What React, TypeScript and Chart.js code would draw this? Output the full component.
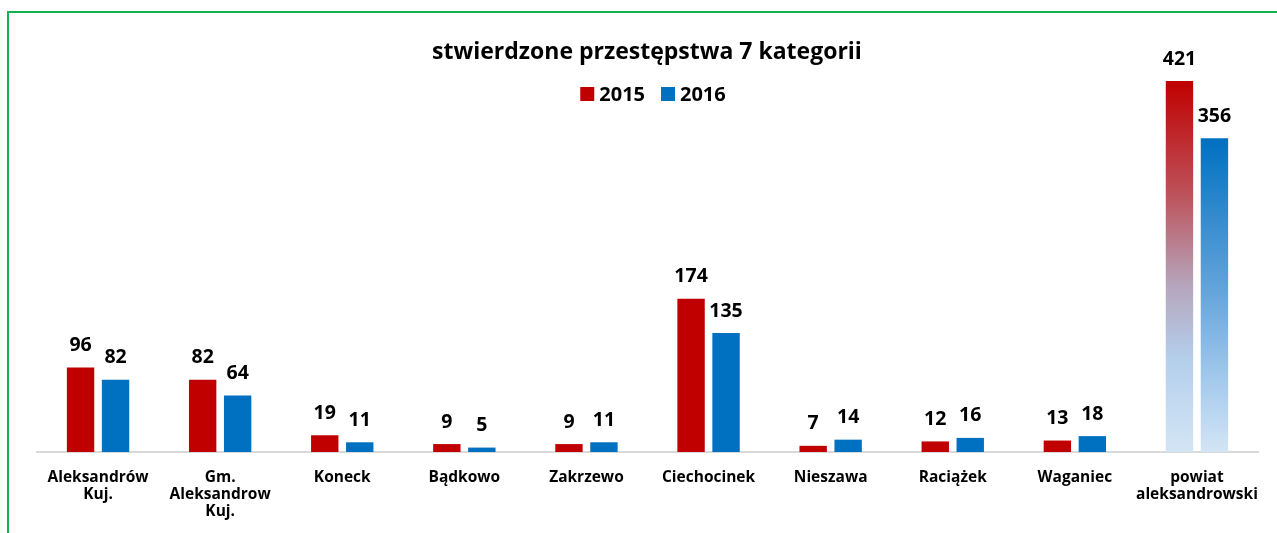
import React, { useEffect, useRef } from "react";
import { Chart, registerables } from "chart.js";

Chart.register(...registerables);

const categories: string[][] = [
  ["Aleksandrów", "Kuj."],
  ["Gm.", "Aleksandrow", "Kuj."],
  ["Koneck"],
  ["Bądkowo"],
  ["Zakrzewo"],
  ["Ciechocinek"],
  ["Nieszawa"],
  ["Raciążek"],
  ["Waganiec"],
  ["powiat", "aleksandrowski"],
];
const values2015: number[] = [96, 82, 19, 9, 9, 174, 7, 12, 13, 421];
const values2016: number[] = [82, 64, 11, 5, 11, 135, 14, 16, 18, 356];
const seriesLabels: string[] = ["2015", "2016"];
const titleText = "stwierdzone przestępstwa 7 kategorii";

const RED = "#C00000";
const BLUE = "#0070C0";
const FONT = "'Open Sans', Lato, sans-serif";

function gradientFill(ctx: any, base: string, isRed: boolean) {
  const chart = ctx.chart;
  if (ctx.type !== "data" || ctx.dataIndex !== 9) return base;
  const yScale = chart.scales && chart.scales.y;
  if (!yScale || !chart.chartArea) return base;
  const v = Number(ctx.raw);
  const top = yScale.getPixelForValue(v);
  const bottom = yScale.getPixelForValue(0);
  if (!isFinite(top) || !isFinite(bottom) || bottom <= top) return base;
  const g = chart.ctx.createLinearGradient(0, top, 0, bottom);
  if (isRed) {
    g.addColorStop(0, "#C00000");
    g.addColorStop(0.3, "#BD5058");
    g.addColorStop(0.55, "#B6A5BC");
    g.addColorStop(0.75, "#B4CFEC");
    g.addColorStop(1, "#D3E5F5");
  } else {
    g.addColorStop(0, "#0070C0");
    g.addColorStop(0.5, "#67A6DC");
    g.addColorStop(0.8, "#AACDEE");
    g.addColorStop(1, "#D3E5F5");
  }
  return g;
}

const overlayPlugin = {
  id: "overlay",
  afterDatasetsDraw(chart: any) {
    const ctx = chart.ctx;
    ctx.save();
    ctx.fillStyle = "#000";
    ctx.textAlign = "center";
    ctx.textBaseline = "middle";
    ctx.font = `bold 19.5px ${FONT}`;
    chart.data.datasets.forEach((ds: any, di: number) => {
      const meta = chart.getDatasetMeta(di);
      meta.data.forEach((bar: any, i: number) => {
        ctx.fillText(String(ds.data[i]), bar.x, bar.y - 22);
      });
    });
    // title
    ctx.font = `bold 23px ${FONT}`;
    ctx.fillText(titleText, 647, 52);
    // legend
    ctx.font = `bold 20px ${FONT}`;
    ctx.textAlign = "left";
    const items = chart.data.datasets.map((ds: any, i: number) => ({
      label: ds.label,
      color: i === 0 ? RED : BLUE,
    }));
    const box = 14;
    const gapBoxText = 5;
    const gapItems = 16;
    let total = 0;
    const widths = items.map((it: any) => ctx.measureText(it.label).width);
    items.forEach((_: any, i: number) => {
      total += box + gapBoxText + widths[i];
      if (i < items.length - 1) total += gapItems;
    });
    let x = 653 - total / 2;
    const cy = 94;
    items.forEach((it: any, i: number) => {
      ctx.fillStyle = it.color;
      ctx.fillRect(x, cy - box / 2, box, box);
      x += box + gapBoxText;
      ctx.fillStyle = "#000";
      ctx.fillText(it.label, x, cy + 1);
      x += widths[i] + gapItems;
    });
    ctx.restore();
  },
};

export default function App() {
  const ref = useRef<HTMLCanvasElement | null>(null);
  useEffect(() => {
    if (!ref.current) return;
    const chart = new Chart(ref.current, {
      type: "bar",
      data: {
        labels: categories,
        datasets: [
          {
            label: seriesLabels[0],
            data: values2015,
            backgroundColor: (c: any) => gradientFill(c, RED, true),
            categoryPercentage: 0.573,
            barPercentage: 0.783,
          },
          {
            label: seriesLabels[1],
            data: values2016,
            backgroundColor: (c: any) => gradientFill(c, BLUE, false),
            categoryPercentage: 0.573,
            barPercentage: 0.783,
          },
        ],
      },
      options: {
        responsive: false,
        animation: false,
        devicePixelRatio: 1,
        layout: { padding: { left: 37, right: 19, top: 40, bottom: 0 } },
        plugins: {
          legend: { display: false },
          title: { display: false },
          tooltip: { enabled: false },
        },
        scales: {
          x: {
            grid: { display: false, drawTicks: false },
            border: { display: true, color: "#D9D9D9", width: 2 },
            ticks: {
              color: "#000",
              font: { family: FONT, size: 15.5, weight: "bold", lineHeight: 1.1 },
              padding: 17,
              maxRotation: 0,
              minRotation: 0,
              autoSkip: false,
            },
            afterFit: (scale: any) => {
              scale.height = 81;
            },
          },
          y: {
            display: false,
            min: 0,
            max: 467.5,
          },
        },
      },
      plugins: [overlayPlugin],
    });
    return () => chart.destroy();
  }, []);
  return (
    <div
      style={{
        position: "fixed",
        left: 0,
        top: 0,
        width: 1277,
        height: 533,
        overflow: "hidden",
        background: "#fff",
      }}
    >
      <div
        style={{
          position: "absolute",
          left: 7,
          top: 11,
          width: 1400,
          height: 700,
          borderLeft: "2px solid #12B050",
          borderTop: "2px solid #12B050",
        }}
      />
      <canvas
        ref={ref}
        width={1277}
        height={533}
        style={{ position: "absolute", left: 0, top: 0, width: 1277, height: 533 }}
      />
    </div>
  );
}
